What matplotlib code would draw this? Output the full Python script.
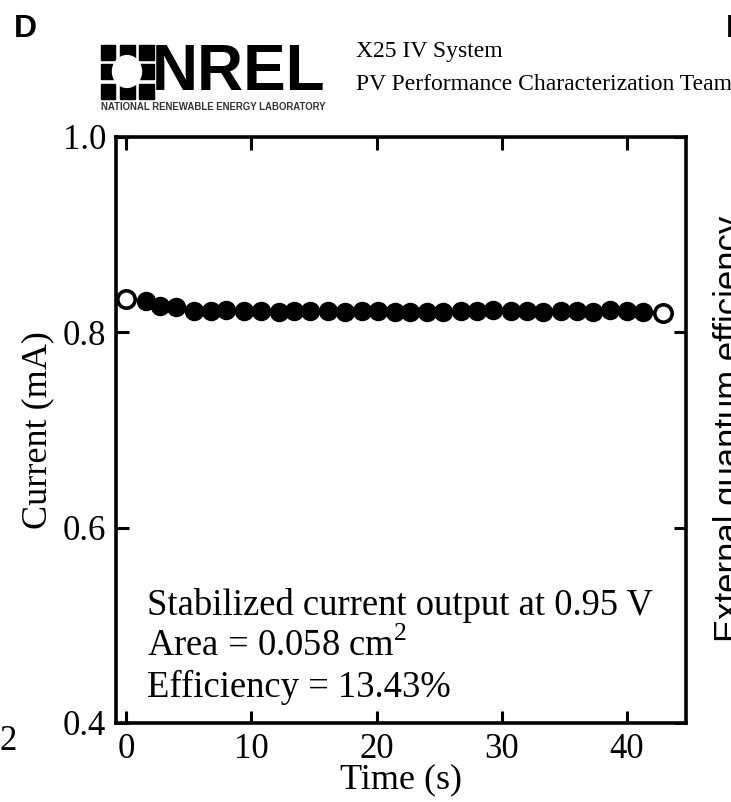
import matplotlib
matplotlib.use("Agg")
import matplotlib.pyplot as plt
from matplotlib.patches import Rectangle, Circle

# ---------------- data ----------------
time_s = [0.0, 1.6, 2.7, 4.0, 5.4, 6.8, 8.0, 9.4, 10.8, 12.2, 13.4, 14.7, 16.1,
          17.5, 18.8, 20.1, 21.5, 22.7, 24.0, 25.3, 26.7, 28.0, 29.3, 30.7,
          32.0, 33.3, 34.7, 36.0, 37.3, 38.6, 40.0, 41.3, 42.9]
current_mA = [0.834, 0.832, 0.827, 0.826, 0.822, 0.822, 0.823, 0.822, 0.822,
              0.821, 0.822, 0.822, 0.822, 0.821, 0.822, 0.822, 0.821, 0.821,
              0.821, 0.821, 0.822, 0.822, 0.823, 0.822, 0.822, 0.821, 0.822,
              0.822, 0.821, 0.823, 0.822, 0.821, 0.820]
x_ticks = [0, 10, 20, 30, 40]
y_ticks = [0.4, 0.6, 0.8, 1.0]
notes = ["Stabilized current output at 0.95 V",
         "Area = 0.058 cm$^{\\mathregular{2}}$",
         "Efficiency = 13.43%"]

W, H = 731, 802
fig = plt.figure(figsize=(W / 100, H / 100), dpi=100)
serif = "Liberation Serif"

def fx(px):
    return px / W

def fy(py):
    return 1 - py / H

ax = fig.add_axes([fx(116), fy(723), fx(686) - fx(116), fy(137) - fy(723)])
ax.plot(time_s, current_mA, color="black", lw=1.5, marker="o", ms=12.5,
        mfc="black", mec="black", mew=1.5, zorder=3)
ax.plot([time_s[0], time_s[-1]], [current_mA[0], current_mA[-1]], ls="none",
        marker="o", ms=12.5, mfc="white", mec="black", mew=2.6, zorder=4)

ax.set_xlim(-0.8, 44.7)
ax.set_ylim(0.4, 1.0)
ax.set_xticks(x_ticks)
ax.set_yticks(y_ticks)
ax.set_xticklabels([str(v) for v in x_ticks], fontfamily=serif, fontsize=25)
ax.set_yticklabels([f"{v:.1f}" for v in y_ticks], fontfamily=serif, fontsize=25)
ax.tick_params(direction="in", length=9, width=2.2, top=True, right=True, pad=7)
for s in ax.spines.values():
    s.set_linewidth(2.6)
ax.set_xlabel("Time (s)", fontfamily=serif, fontsize=26, labelpad=-2)
ax.set_ylabel("Current (mA)", fontfamily=serif, fontsize=26, labelpad=6)

for txt, yy in zip(notes, [0.184, 0.114, 0.044]):
    ax.text(0.054, yy, txt, transform=ax.transAxes, fontfamily=serif,
            fontsize=26.4, va="baseline", ha="left")

# ---------------- decorations from the figure panel ----------------
fig.text(fx(14), fy(29), "D", fontfamily="Liberation Sans", fontweight="bold",
         fontsize=23, va="center", ha="left")
fig.text(fx(726), fy(29), "E", fontfamily="Liberation Sans", fontweight="bold",
         fontsize=23, va="center", ha="left")
fig.text(fx(8), fy(742), "2", fontfamily=serif, fontsize=25, va="center",
         ha="center")
fig.text(fx(713), fy(429), "External quantum efficiency",
         fontfamily="Liberation Sans", fontsize=25, rotation=90,
         va="center", ha="left")

# NREL logo (approximation): 3x3 ring of blocks around a round hole
for bx in (108.0, 127.0, 146.0):
    for by in (52.0, 71.5, 91.0):
        if bx == 127.0 and by == 71.5:
            continue
        fig.patches.append(Rectangle((fx(bx - 7.5), fy(by + 7.5)), 15 / W,
                                     15 / H, transform=fig.transFigure,
                                     color="black"))
fig.patches.append(Circle((fx(127), fy(71.5)), 14.5 / W,
                          transform=fig.transFigure, color="white"))
fig.text(fx(152), fy(73), "NREL", fontfamily="Liberation Sans",
         fontweight="bold", fontsize=46, va="center", ha="left", color="black")
fig.text(fx(101), fy(107), "NATIONAL RENEWABLE ENERGY LABORATORY",
         fontfamily="Liberation Sans", fontweight="bold", fontsize=6.9,
         va="center", ha="left", color="#333333")
fig.text(fx(356), fy(52), "X25 IV System", fontfamily=serif, fontsize=17,
         va="center", ha="left")
fig.text(fx(356), fy(84), "PV Performance Characterization Team",
         fontfamily=serif, fontsize=17, va="center", ha="left")

fig.savefig("out.png", dpi=100)
